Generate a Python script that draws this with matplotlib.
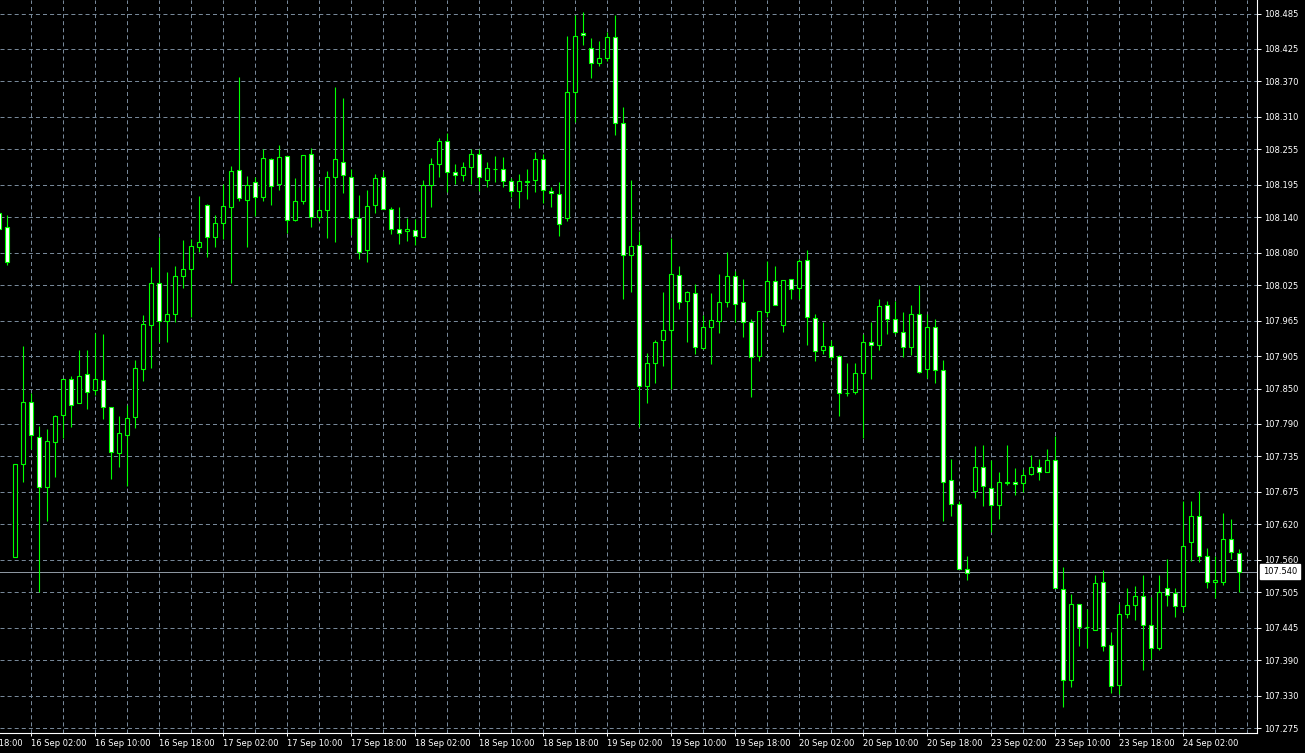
import numpy as np
import matplotlib.pyplot as plt

# USDJPY-style H1 candles, one value per bar (oldest first)
opens = [
    108.147, 108.123, 107.564, 107.723, 107.827, 107.768, 107.683, 107.759, 107.805, 107.867,
    107.825, 107.874, 107.847, 107.864, 107.818, 107.741, 107.772, 107.802, 107.883, 107.957,
    108.028, 107.964, 107.976, 108.040, 108.052, 108.089, 108.160, 108.106, 108.130, 108.157,
    108.220, 108.169, 108.199, 108.174, 108.238, 108.196, 108.243, 108.135, 108.167, 108.247,
    108.140, 108.152, 108.209, 108.233, 108.209, 108.138, 108.084, 108.160, 108.208, 108.154,
    108.121, 108.116, 108.118, 108.106, 108.194, 108.230, 108.270, 108.216, 108.211, 108.226,
    108.248, 108.204, 108.221, 108.221, 108.201, 108.184, 108.199, 108.203, 108.238, 108.184,
    108.179, 108.138, 108.352, 108.452, 108.426, 108.401, 108.409, 108.445, 108.299, 108.077,
    108.093, 107.854, 107.894, 107.932, 107.950, 108.042, 107.998, 108.011, 107.918, 107.954,
    107.964, 107.996, 108.040, 107.996, 107.962, 107.905, 107.979, 108.032, 107.957, 108.035,
    108.020, 108.067, 107.969, 107.915, 107.922, 107.905, 107.842, 107.845, 107.876, 107.928,
    107.923, 107.991, 107.967, 107.945, 107.920, 107.977, 107.883, 107.955, 107.881, 107.696,
    107.654, 107.544, 107.677, 107.717, 107.681, 107.652, 107.690, 107.691, 107.690, 107.705,
    107.718, 107.708, 107.729, 107.510, 107.356, 107.485, 107.446, 107.442, 107.522, 107.415,
    107.348, 107.468, 107.483, 107.498, 107.449, 107.410, 107.512, 107.503, 107.481, 107.590,
    107.634, 107.566, 107.522, 107.522, 107.595, 107.571,
]
highs = [
    108.149, 108.144, 107.723, 107.922, 107.842, 107.786, 107.781, 107.805, 107.867, 107.871,
    107.915, 107.915, 107.944, 107.942, 107.818, 107.804, 107.822, 107.898, 107.975, 108.056,
    108.107, 108.047, 108.057, 108.102, 108.103, 108.176, 108.163, 108.144, 108.196, 108.227,
    108.378, 108.210, 108.208, 108.255, 108.240, 108.262, 108.243, 108.206, 108.245, 108.257,
    108.191, 108.218, 108.360, 108.342, 108.221, 108.177, 108.187, 108.213, 108.218, 108.157,
    108.157, 108.138, 108.137, 108.203, 108.240, 108.274, 108.282, 108.231, 108.233, 108.255,
    108.255, 108.233, 108.243, 108.242, 108.206, 108.213, 108.221, 108.250, 108.248, 108.191,
    108.199, 108.447, 108.482, 108.487, 108.443, 108.438, 108.453, 108.482, 108.326, 108.204,
    108.116, 107.910, 107.933, 108.013, 108.105, 108.057, 108.016, 108.027, 107.974, 108.011,
    108.044, 108.082, 108.049, 108.035, 107.967, 107.981, 108.066, 108.057, 108.033, 108.035,
    108.069, 108.084, 107.976, 107.962, 107.933, 107.906, 107.893, 107.893, 107.942, 107.962,
    108.001, 107.999, 107.998, 107.979, 107.991, 108.025, 107.976, 107.967, 107.898, 107.730,
    107.659, 107.566, 107.752, 107.754, 107.729, 107.708, 107.754, 107.715, 107.713, 107.737,
    107.730, 107.747, 107.769, 107.548, 107.502, 107.485, 107.476, 107.535, 107.542, 107.437,
    107.486, 107.512, 107.515, 107.534, 107.497, 107.535, 107.561, 107.513, 107.659, 107.659,
    107.676, 107.580, 107.566, 107.639, 107.629, 107.578,
]
lows = [
    108.119, 108.060, 107.564, 107.691, 107.747, 107.506, 107.625, 107.701, 107.767, 107.785,
    107.825, 107.815, 107.839, 107.799, 107.697, 107.718, 107.685, 107.784, 107.863, 107.885,
    107.928, 107.929, 107.963, 108.021, 107.971, 108.082, 108.073, 108.090, 108.103, 108.029,
    108.168, 108.089, 108.143, 108.168, 108.160, 108.187, 108.113, 108.133, 108.162, 108.124,
    108.133, 108.105, 108.099, 108.181, 108.110, 108.069, 108.065, 108.147, 108.154, 108.111,
    108.094, 108.100, 108.093, 108.106, 108.157, 108.208, 108.182, 108.196, 108.202, 108.196,
    108.184, 108.191, 108.199, 108.191, 108.174, 108.155, 108.171, 108.182, 108.165, 108.157,
    108.108, 108.133, 108.302, 108.431, 108.376, 108.397, 108.404, 108.279, 108.001, 108.013,
    107.785, 107.825, 107.859, 107.889, 107.850, 107.985, 107.929, 107.908, 107.917, 107.891,
    107.944, 107.988, 107.962, 107.937, 107.835, 107.896, 107.971, 107.991, 107.945, 108.001,
    108.001, 107.923, 107.896, 107.908, 107.898, 107.803, 107.837, 107.840, 107.766, 107.867,
    107.915, 107.942, 107.942, 107.903, 107.906, 107.876, 107.868, 107.859, 107.625, 107.634,
    107.544, 107.525, 107.664, 107.651, 107.607, 107.629, 107.686, 107.669, 107.674, 107.703,
    107.695, 107.708, 107.512, 107.310, 107.344, 107.414, 107.410, 107.441, 107.405, 107.334,
    107.332, 107.461, 107.458, 107.373, 107.392, 107.408, 107.481, 107.464, 107.472, 107.558,
    107.556, 107.512, 107.495, 107.517, 107.561, 107.505,
]
closes = [
    108.120, 108.065, 107.723, 107.828, 107.771, 107.683, 107.761, 107.803, 107.867, 107.823,
    107.871, 107.845, 107.866, 107.818, 107.743, 107.774, 107.800, 107.884, 107.959, 108.028,
    107.964, 107.977, 108.040, 108.052, 108.091, 108.099, 108.106, 108.130, 108.159, 108.218,
    108.172, 108.194, 108.174, 108.240, 108.193, 108.242, 108.135, 108.167, 108.245, 108.140,
    108.152, 108.209, 108.238, 108.211, 108.138, 108.082, 108.159, 108.206, 108.154, 108.121,
    108.113, 108.120, 108.108, 108.194, 108.230, 108.270, 108.216, 108.211, 108.226, 108.247,
    108.209, 108.223, 108.221, 108.201, 108.184, 108.201, 108.201, 108.238, 108.186, 108.181,
    108.128, 108.353, 108.447, 108.448, 108.401, 108.409, 108.445, 108.299, 108.077, 108.091,
    107.854, 107.894, 107.928, 107.949, 108.044, 107.996, 108.013, 107.920, 107.954, 107.966,
    107.996, 108.040, 107.994, 107.962, 107.903, 107.981, 108.032, 107.991, 108.033, 108.018,
    108.066, 107.971, 107.913, 107.922, 107.903, 107.842, 107.842, 107.876, 107.928, 107.923,
    107.989, 107.967, 107.945, 107.920, 107.976, 107.878, 107.954, 107.881, 107.691, 107.654,
    107.544, 107.537, 107.717, 107.685, 107.652, 107.691, 107.691, 107.688, 107.703, 107.718,
    107.708, 107.729, 107.512, 107.356, 107.485, 107.446, 107.446, 107.520, 107.414, 107.346,
    107.468, 107.483, 107.498, 107.449, 107.410, 107.505, 107.500, 107.481, 107.583, 107.635,
    107.566, 107.522, 107.525, 107.595, 107.573, 107.540,
]

time_labels = [
    "13 Sep 18:00", "16 Sep 02:00", "16 Sep 10:00", "16 Sep 18:00", "17 Sep 02:00",
    "17 Sep 10:00", "17 Sep 18:00", "18 Sep 02:00", "18 Sep 10:00", "18 Sep 18:00",
    "19 Sep 02:00", "19 Sep 10:00", "19 Sep 18:00", "20 Sep 02:00", "20 Sep 10:00",
    "20 Sep 18:00", "23 Sep 02:00", "23 Sep 10:00", "23 Sep 18:00", "24 Sep 02:00",
]
price_levels = [
    108.485, 108.425, 108.370, 108.310, 108.255, 108.195, 108.140, 108.080, 108.025, 107.965,
    107.905, 107.850, 107.790, 107.735, 107.675, 107.620, 107.560, 107.505, 107.445, 107.390,
    107.330, 107.275,
]
bid_price = 107.540

LIME = "#00ff00"
GRID = "#778899"
plt.rcParams["lines.scale_dashes"] = False
plt.rcParams["font.family"] = "DejaVu Sans"

fig = plt.figure(figsize=(13.05, 7.53), dpi=100, facecolor="black")
ax = fig.add_axes([0, 20 / 753, 1257 / 1305, 733 / 753])
ax.set_facecolor("black")

o = np.array(opens)
h = np.array(highs)
l = np.array(lows)
c = np.array(closes)
x = np.arange(len(o))
bull = c >= o

ax.vlines(x, l, h, color=LIME, lw=0.8, zorder=3)
ax.bar(x, np.abs(c - o), bottom=np.minimum(o, c), width=0.5,
       color=np.where(bull, "black", "white"), edgecolor=LIME, linewidth=0.8, zorder=4)

# bid line + price box
ax.axhline(bid_price, color="#8c96a0", lw=0.72, zorder=2, snap=True)
ax.text(1.0048, bid_price, f"{bid_price:.3f}", transform=ax.get_yaxis_transform(),
        ha="left", va="center", fontsize=6, color="black", clip_on=False, zorder=6,
        bbox=dict(boxstyle="square,pad=0.35", fc="white", ec="white"))

label_pos = -4 + 8 * np.arange(len(time_labels))
ax.set_xticks(label_pos[1:])
ax.set_xticklabels(time_labels[1:], ha="left")
ax.set_xticks(np.arange(0, 160, 4), minor=True)
ax.set_yticks(price_levels)
ax.set_yticklabels([f"{p:.3f}" for p in price_levels])
ax.yaxis.tick_right()

# first time label sits left of the view, only its tail is visible (as in MT4)
ax.annotate(time_labels[0], xy=(label_pos[0], 0), xycoords=ax.get_xaxis_transform(),
            xytext=(0, -4), textcoords="offset points", ha="left", va="top",
            fontsize=6, color="white", annotation_clip=False)

ax.tick_params(axis="x", which="major", colors="white", labelsize=6, length=2.5, width=0.7, pad=1.5)
ax.tick_params(axis="x", which="minor", length=0)
ax.tick_params(axis="y", colors="white", labelsize=6, length=3, width=0.7, pad=2)

for lvl in price_levels:
    ax.axhline(lvl, color=GRID, lw=0.72, ls=(0, (2.9, 2.2)), zorder=1, snap=True)
for xv in np.arange(0, 160, 4):
    ax.axvline(xv, color=GRID, lw=0.72, ls=(0, (2.9, 2.2)), zorder=1, snap=True)

# axes limits: one bar = 8 px (set after ticks so they do not widen the view)
ax.set_xlim(0.0875, 157.21)
ax.set_ylim(108.50796 - 733 / 590.55, 108.50796)

for side in ["left", "top"]:
    ax.spines[side].set_visible(False)
for side in ["right", "bottom"]:
    ax.spines[side].set_color("white")
    ax.spines[side].set_linewidth(0.8)

fig.savefig("out.png", dpi=100, facecolor="black")
